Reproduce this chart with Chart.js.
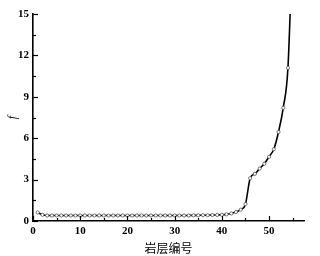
<!DOCTYPE html>
<html><head><meta charset="utf-8">
<script src="https://cdn.jsdelivr.net/npm/chart.js@4"></script>
<style>html,body{margin:0;padding:0;background:#fff}#w{width:320px;height:256px}</style>
</head><body><div id="w"><canvas id="c" width="320" height="256"></canvas></div>
<script>
const layers = [1,2,3,4,5,6,7,8,9,10,11,12,13,14,15,16,17,18,19,20,21,22,23,24,25,26,27,28,29,30,31,32,33,34,35,36,37,38,39,40,41,42,43,44,45,46,47,48,49,50,51,52,53,54,55];
const fValues = [0.62,0.45,0.40,0.40,0.40,0.40,0.40,0.40,0.40,0.40,0.40,0.40,0.40,0.40,0.40,0.40,0.40,0.40,0.40,0.40,0.40,0.40,0.40,0.40,0.40,0.40,0.40,0.40,0.40,0.40,0.40,0.40,0.40,0.41,0.41,0.42,0.42,0.43,0.44,0.45,0.48,0.55,0.65,0.82,1.22,3.1,3.42,3.8,4.15,4.65,5.2,6.45,8.2,11.1,20.5];
const xTicks = [0,10,20,30,40,50];
const yTicks = [0,3,6,9,12,15];
const xTitle = '岩层编号';
const yTitle = 'f';

const pts = layers.map((l,i)=>({x:l,y:fValues[i]}));
const inwardTicks = {
  id:'inwardTicks',
  afterDatasetsDraw(chart){
    const ctx = chart.ctx, xs = chart.scales.x, ys = chart.scales.y, a = chart.chartArea;
    ctx.save(); ctx.strokeStyle='#000'; ctx.lineWidth=1.2;
    for (let v=0; v<=xs.max; v+=5){
      const px = Math.round(xs.getPixelForValue(v))+0.5;
      const len = (v%10===0)?5:3;
      ctx.beginPath(); ctx.moveTo(px,a.bottom); ctx.lineTo(px,a.bottom-len); ctx.stroke();
    }
    for (let i=0; i<=10; i++){
      const v=i*1.5; const py = Math.round(ys.getPixelForValue(v))+0.5;
      const len = (i%2===0)?5:3;
      ctx.beginPath(); ctx.moveTo(a.left,py); ctx.lineTo(a.left+len,py); ctx.stroke();
    }
    ctx.restore();
  }
};
new Chart(document.getElementById('c'),{
  type:'line',
  data:{datasets:[{data:pts,borderColor:'#000',borderWidth:1.6,cubicInterpolationMode:'monotone',
    pointRadius:1.6,pointBorderWidth:0.8,pointBorderColor:'#555',pointBackgroundColor:'#fff'}]},
  options:{
    responsive:false,animation:false,
    layout:{padding:{left:0,right:16,top:14,bottom:0}},
    plugins:{legend:{display:false},tooltip:{enabled:false}},
    scales:{
      x:{type:'linear',min:0,max:57.4,
        afterBuildTicks(s){s.ticks=xTicks.map(v=>({value:v}));},
        afterFit(s){s.height=35;},
        grid:{drawOnChartArea:false,drawTicks:false},
        border:{display:true,color:'#000',width:1.6},
        ticks:{padding:4,color:'#000',font:{family:'Liberation Serif',size:11,weight:'bold'},maxRotation:0},
        title:{display:true,text:xTitle,color:'#000',font:{family:'Noto Sans CJK SC',size:12},padding:{top:0,bottom:0}}
      },
      y:{type:'linear',min:0,max:15,
        afterBuildTicks(s){s.ticks=yTicks.map(v=>({value:v}));},
        afterFit(s){s.width=33;},
        grid:{drawOnChartArea:false,drawTicks:false},
        border:{display:true,color:'#000',width:1.6},
        ticks:{padding:4,color:'#000',font:{family:'Liberation Serif',size:11,weight:'bold'}},
        title:{display:true,text:yTitle,color:'#000',font:{family:'Liberation Serif',size:12,style:'italic'},padding:{top:6,bottom:0}}
      }
    }
  },
  plugins:[inwardTicks]
});
</script></body></html>
